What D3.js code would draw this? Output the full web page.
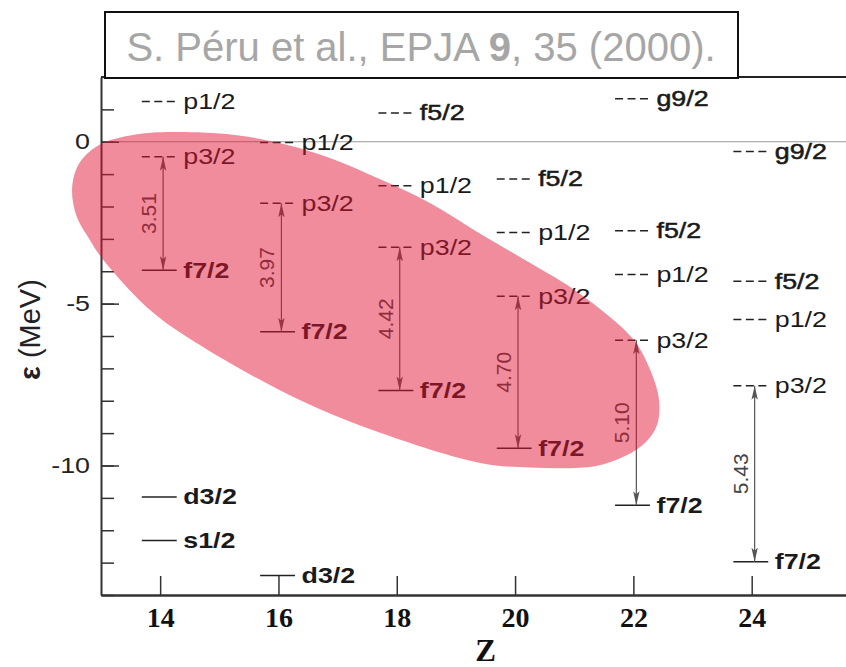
<!DOCTYPE html>
<html>
<head>
<meta charset="utf-8">
<script src="https://cdn.jsdelivr.net/npm/d3@7"></script>
<style>
  body { margin: 0; background: #fff; }
  svg { display: block; }
</style>
</head>
<body>
<svg id="chart"></svg>
<script>
// Proton numbers and single-particle energies (MeV)
const nuclei = [14, 16, 18, 20, 22, 24];
const p1Levels = [1.24, -0.02, -1.36, -2.80, -4.10, -5.49];
const p3Levels = [-0.46, -1.90, -3.26, -4.77, -6.13, -7.54];
const f7Levels = [-3.97, -5.87, -7.68, -9.47, -11.23, -12.97];
const f5Levels = [null, null, 0.89, -1.15, -2.75, -4.31];
const g9Levels = [null, null, null, null, 1.33, -0.30];
const d3Levels = [-10.97, -13.40, null, null, null, null];
const s1Levels = [-12.32, null, null, null, null, null];
const gapLabels = ["3.51", "3.97", "4.42", "4.70", "5.10", "5.43"];
const xTicks = [14, 16, 18, 20, 22, 24];
const yMajor = [0, -5, -10];

// outline of the highlighted region (Z, MeV)
const regionZ = [12.51, 12.59, 12.78, 13.07, 13.54, 14.12, 15.23, 16.15, 16.87, 17.72,
                 18.56, 19.41, 20.25, 21.10, 21.98, 22.25, 22.43, 22.40, 22.20, 21.86,
                 21.35, 20.25, 19.41, 17.72, 16.36, 14.67, 13.83, 13.00, 12.81, 12.59];
const regionE = [-1.49, -0.81, -0.35, -0.01, 0.21, 0.30, 0.22, -0.10, -0.50, -1.16,
                 -1.89, -2.84, -3.74, -4.70, -6.06, -6.90, -7.92, -8.75, -9.30, -9.71,
                 -10.02, -10.06, -9.92, -8.99, -7.98, -6.28, -5.20, -3.56, -3.03, -2.32];

const width = 846, height = 667;
const sx = 1.22;  // horizontal stretch of the plot lettering

const svg = d3.select("#chart")
    .attr("width", width)
    .attr("height", height);

const x = d3.scaleLinear().domain([13, 26]).range([101, 870]);
const y = d3.scaleLinear().domain([-14, 2]).range([595, 77]);

// arrow head
svg.append("defs").append("marker")
    .attr("id", "head")
    .attr("markerUnits", "userSpaceOnUse")
    .attr("viewBox", "0 0 14 8")
    .attr("markerWidth", 14)
    .attr("markerHeight", 8)
    .attr("refX", 14)
    .attr("refY", 4)
    .attr("orient", "auto-start-reverse")
  .append("path")
    .attr("d", "M0,0.8 L14,4 L0,7.2 L3,4 Z")
    .attr("fill", "#555");

// zero line
svg.append("line")
    .attr("x1", x(13)).attr("x2", x(26))
    .attr("y1", y(0)).attr("y2", y(0))
    .attr("stroke", "#999").attr("stroke-width", 1.2);

// top border
svg.append("line")
    .attr("x1", x(13)).attr("x2", x(26))
    .attr("y1", y(2)).attr("y2", y(2))
    .attr("stroke", "#222").attr("stroke-width", 2);

// y axis: minor ticks every MeV, longer ticks with labels every 5
svg.append("g")
    .attr("transform", `translate(${x(13)},0)`)
    .call(d3.axisLeft(y).tickValues(d3.range(-14, 3)).tickSize(-13).tickSizeOuter(0).tickFormat(""))
    .call(g => g.select(".domain").attr("stroke", "#333").attr("stroke-width", 2))
    .call(g => g.selectAll(".tick line").attr("stroke", "#333").attr("stroke-width", 1.5));

const yAxisMajor = svg.append("g")
    .attr("transform", `translate(${x(13)},0)`)
    .call(d3.axisLeft(y).tickValues(yMajor).tickSize(-18).tickSizeOuter(0).tickPadding(11)
        .tickFormat(d => String(d)))
    .call(g => g.select(".domain").remove())
    .call(g => g.selectAll(".tick line").attr("stroke", "#333").attr("stroke-width", 1.5));
yAxisMajor.selectAll("text")
    .attr("x", -11 / sx)
    .attr("transform", `scale(${sx},1)`)
    .style("font-family", "'Liberation Sans', Arial, sans-serif")
    .style("font-size", "22px")
    .attr("fill", "#222");

// x axis
svg.append("g")
    .attr("transform", `translate(0,${y(-14)})`)
    .call(d3.axisBottom(x).tickValues(xTicks).tickSize(-19).tickSizeOuter(0).tickPadding(12))
    .call(g => g.select(".domain").attr("stroke", "#333").attr("stroke-width", 2.5))
    .call(g => g.selectAll(".tick line").attr("stroke", "#333").attr("stroke-width", 1.5))
    .call(g => g.selectAll("text")
        .style("font-family", "'Liberation Serif', 'Times New Roman', serif")
        .style("font-weight", "bold")
        .style("font-size", "28px")
        .attr("fill", "#111"));

// axis titles
svg.append("text")
    .attr("x", x(19.5)).attr("y", 661)
    .attr("text-anchor", "middle")
    .style("font-family", "'Liberation Serif', 'Times New Roman', serif")
    .style("font-weight", "bold")
    .style("font-size", "31px")
    .attr("fill", "#111")
    .text("Z");

svg.append("text")
    .attr("transform", `translate(40,${y(-5.8)}) rotate(-90)`)
    .attr("text-anchor", "middle")
    .style("font-family", "'Liberation Sans', Arial, sans-serif")
    .style("font-size", "29px")
    .attr("fill", "#222")
    .html('<tspan font-weight="bold">ε</tspan> (MeV)');

// levels
const series = [
  { name: "p1/2", values: p1Levels, dashed: true, weight: "normal" },
  { name: "p3/2", values: p3Levels, dashed: true, weight: "normal" },
  { name: "f5/2", values: f5Levels, dashed: true, weight: "medium" },
  { name: "g9/2", values: g9Levels, dashed: true, weight: "medium" },
  { name: "f7/2", values: f7Levels, dashed: false, weight: "bold" },
  { name: "d3/2", values: d3Levels, dashed: false, weight: "bold" },
  { name: "s1/2", values: s1Levels, dashed: false, weight: "bold" }
];

const levels = [];
series.forEach(s => s.values.forEach((v, i) => {
  if (v !== null) levels.push({ z: nuclei[i], e: v, name: s.name, dashed: s.dashed, weight: s.weight });
}));

const lv = svg.append("g").selectAll("g")
    .data(levels)
  .enter().append("g");

lv.append("line")
    .attr("x1", d => x(d.z - 0.31))
    .attr("x2", d => x(d.z + 0.28))
    .attr("y1", d => y(d.e))
    .attr("y2", d => y(d.e))
    .attr("stroke", "#222")
    .attr("stroke-width", 1.5)
    .attr("stroke-dasharray", d => d.dashed ? "8,4.5" : null);

lv.append("text")
    .attr("transform", d => `translate(${x(d.z + 0.39)},${y(d.e)}) scale(${sx},1)`)
    .attr("dy", "0.34em")
    .style("font-family", "'Liberation Sans', Arial, sans-serif")
    .style("font-size", "22px")
    .style("font-weight", d => d.weight === "bold" ? "bold" : "normal")
    .attr("fill", "#1a1a1a")
    .attr("stroke", d => d.weight === "medium" ? "#1a1a1a" : null)
    .attr("stroke-width", d => d.weight === "medium" ? 0.5 : null)
    .text(d => d.name);

// p3/2 - f7/2 gaps
const gaps = nuclei.map((z, i) => ({ z: z, top: p3Levels[i], bottom: f7Levels[i], label: gapLabels[i] }));

const gp = svg.append("g").selectAll("g")
    .data(gaps)
  .enter().append("g");

gp.append("line")
    .attr("x1", d => x(d.z + 0.05)).attr("x2", d => x(d.z + 0.05))
    .attr("y1", d => y(d.top)).attr("y2", d => y(d.bottom))
    .attr("stroke", "#555")
    .attr("stroke-width", 1.2)
    .attr("marker-start", "url(#head)")
    .attr("marker-end", "url(#head)");

gp.append("text")
    .attr("transform", d => `translate(${x(d.z + 0.05) - 7},${y((d.top + d.bottom) / 2)}) rotate(-90)`)
    .attr("text-anchor", "middle")
    .style("font-family", "'Liberation Sans', Arial, sans-serif")
    .style("font-size", "21px")
    .attr("fill", "#444")
    .text(d => d.label);

// highlighted region
const region = regionZ.map((z, i) => [z, regionE[i]]);
svg.append("path")
    .datum(region)
    .attr("d", d3.line()
        .x(d => x(d[0]))
        .y(d => y(d[1]))
        .curve(d3.curveCatmullRomClosed.alpha(0.5)))
    .attr("fill", "rgb(224,20,51)")
    .attr("fill-opacity", 0.49);

// reference box
svg.append("rect")
    .attr("x", 105).attr("y", 12)
    .attr("width", 633).attr("height", 66)
    .attr("fill", "#fff")
    .attr("stroke", "#111")
    .attr("stroke-width", 2);

svg.append("text")
    .attr("x", 421).attr("y", 61)
    .attr("text-anchor", "middle")
    .style("font-family", "'Liberation Sans', Arial, sans-serif")
    .style("font-size", "40px")
    .attr("fill", "#a6a6a6")
    .html('S. Péru et al., EPJA <tspan font-weight="bold">9</tspan>, 35 (2000).');
</script>
</body>
</html>
